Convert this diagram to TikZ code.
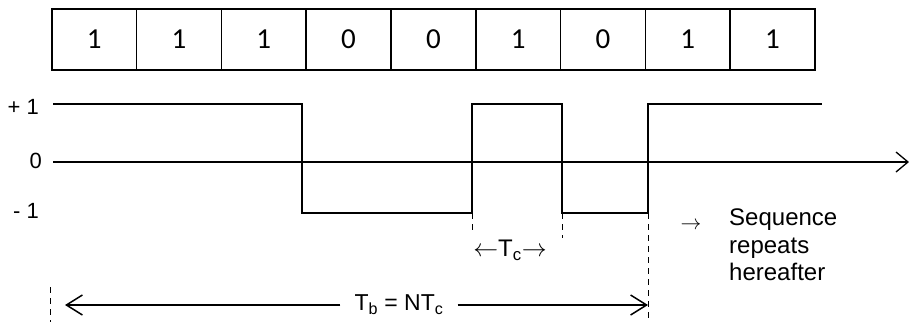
\documentclass[tikz,border=0pt]{standalone}
\usepackage{fontspec}
\setmainfont{Liberation Sans}
\newfontfamily\bitfont{Carlito}
\usetikzlibrary{arrows.meta, positioning, calc}

\begin{document}
\begin{tikzpicture}[
    x=1pt, y=-1pt,
    bitbox/.style={rectangle, draw, line width=1.5pt, minimum width=84.8pt, minimum height=61pt,
      inner sep=0pt, anchor=north west, font=\bitfont\fontsize{29}{33}\selectfont},
    wave/.style={line width=1.1pt},
    axis/.style={line width=1.3pt, -{Straight Barb[length=12pt, width=20pt, line width=1.3pt]}},
    lvl/.style={anchor=east, inner sep=0pt, font=\fontsize{22}{26}\selectfont},
    guide/.style={line width=1pt, dash pattern=on 6pt off 5pt},
    span/.style={line width=1.5pt, -{Straight Barb[length=16pt, width=20pt, line width=1.5pt]}},
    lab/.style={font=\fontsize{23}{28}\selectfont, inner sep=0pt}
  ]
  \useasboundingbox (0,0) rectangle (909,322);
  % bit sequence
  \foreach \b [count=\i from 0] in {1,1,1,0,0,1,0,1,1}
    \node[bitbox] (bit\i) at ({51+84.8*\i},8) {\b};

  % levels
  \node[lvl] (plus) at (39,107) {+ 1};
  \node[lvl] (zero) at (42,161) {0};
  \node[lvl] (minus) at (39,211) {- 1};

  % time axis
  \coordinate (t0) at (53,162);
  \coordinate (tend) at (909,162);
  \draw[axis] (t0) -- (tend);

  % waveform
  \draw[wave] (53,104) -- (302,104) -- (302,213) -- (472,213) -- (472,104)
    -- (562,104) -- (562,213) -- (648,213) -- (648,104) -- (822,104);

  % chip period
  \coordinate (tcA) at (472,213);
  \coordinate (tcB) at (562,213);
  \coordinate (tbA) at (648,213);
  \draw[guide] (tcA) -- ++(0,20);
  \draw[guide] (tcB) -- ++(0,25);
  \draw[guide] (tbA) -- ++(0,109);
  \draw[guide] (50,287) -- (50,322);
  \node[font=\fontsize{24}{28}\selectfont, inner sep=0pt] (tc) at (510,250)
    {$\leftarrow$T\textsubscript{c}$\rightarrow$};

  % bit period
  \coordinate (tbL) at (65,305);
  \coordinate (tbR) at (648,305);
  \node[lab, inner xsep=14pt, fill=white] (tb) at (399,305)
    {T\textsubscript{b} = NT\textsubscript{c}};
  \draw[span] (tb) -- (tbL);
  \draw[span] (tb) -- (tbR);

  % note
  \node[font=\fontsize{22}{26}\selectfont] (rep) at (691,226) {$\rightarrow$};
  \node[lab, anchor=west, align=left, font=\fontsize{24}{27.5}\selectfont] (seq) at (729,245)
    {Sequence\\repeats\\hereafter};
\end{tikzpicture}
\end{document}
